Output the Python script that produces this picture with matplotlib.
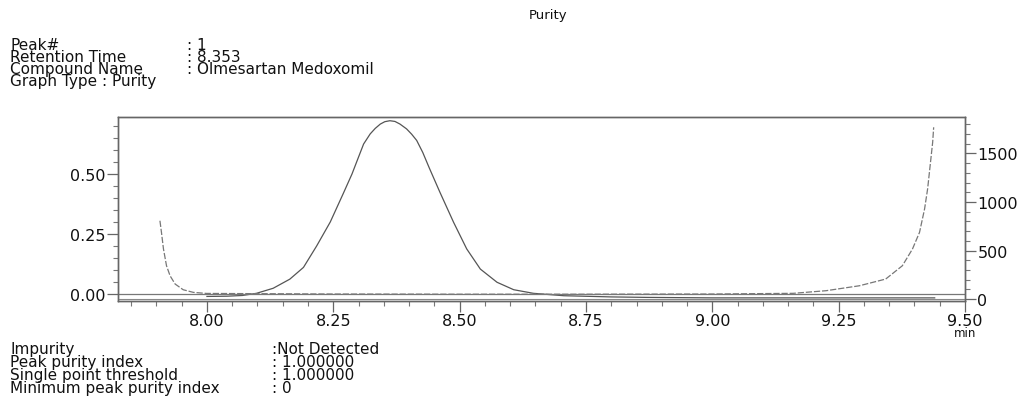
import numpy as np
import matplotlib.pyplot as plt
from matplotlib.ticker import MultipleLocator, FormatStrFormatter

# Purity curve (left axis)
purity_time = [8.000, 8.040, 8.070, 8.098, 8.131, 8.164, 8.191, 8.217, 8.244, 8.270,
               8.287, 8.298, 8.310, 8.323, 8.333, 8.343, 8.352, 8.362, 8.372, 8.382,
               8.395, 8.405, 8.415, 8.427, 8.440, 8.461, 8.488, 8.514, 8.541, 8.574,
               8.607, 8.646, 8.706, 8.800, 8.871, 9.000, 9.200, 9.440]
purity_vals = [-0.010, -0.009, -0.006, 0.003, 0.024, 0.062, 0.111, 0.200, 0.300, 0.420,
               0.500, 0.560, 0.625, 0.667, 0.690, 0.708, 0.718, 0.722, 0.719, 0.708,
               0.688, 0.666, 0.640, 0.590, 0.525, 0.424, 0.299, 0.188, 0.104, 0.049,
               0.018, 0.003, -0.007, -0.012, -0.014, -0.016, -0.016, -0.016]

# Threshold curve (right axis)
threshold_time = [7.907, 7.910, 7.914, 7.920, 7.927, 7.937, 7.953, 7.973, 7.999, 8.25,
                  8.50, 8.75, 9.00, 9.16, 9.225, 9.291, 9.343, 9.376, 9.396, 9.410,
                  9.420, 9.426, 9.431, 9.436, 9.438]
threshold_vals = [807, 687, 515, 343, 240, 155, 96, 69, 58, 52,
                  50, 50, 52, 59, 86, 137, 206, 343, 515, 687,
                  928, 1134, 1374, 1615, 1770]

header_keys = ["Peak#", "Retention Time", "Compound Name", "Graph Type : Purity"]
header_vals = [": 1", ": 8.353", ": Olmesartan Medoxomil"]
footer_keys = ["Impurity", "Peak purity index", "Single point threshold", "Minimum peak purity index"]
footer_vals = [":Not Detected", ": 1.000000", ": 1.000000", ": 0"]

W, H = 1029, 402
fig = plt.figure(figsize=(W / 100, H / 100), dpi=100)
fig.patch.set_facecolor("white")

ax = fig.add_axes([118 / W, 1 - 302 / H, (965 - 118) / W, (302 - 118) / H])
ax2 = ax.twinx()

txt = dict(family="DejaVu Sans", color="#111111")
tick_fs = 11.5
body_fs = 11

# Left axis
ax.plot(purity_time, purity_vals, color="#555555", lw=0.9)
ax.axhline(0, color="#777777", lw=0.9)
ax.set_xlim(7.824, 9.50)
ax.set_ylim(-0.029, 0.7375)
ax.xaxis.set_major_locator(MultipleLocator(0.25))
ax.xaxis.set_minor_locator(MultipleLocator(0.05))
ax.yaxis.set_major_locator(MultipleLocator(0.25))
ax.yaxis.set_minor_locator(MultipleLocator(0.05))
ax.xaxis.set_major_formatter(FormatStrFormatter("%.2f"))
ax.yaxis.set_major_formatter(FormatStrFormatter("%.2f"))
ax.tick_params(which="major", length=8, width=0.9, color="#666666", pad=1, labelsize=tick_fs)
ax.tick_params(which="minor", length=3.5, width=0.8, color="#777777")

# Right axis
ax2.plot(threshold_time, threshold_vals, color="#777777", lw=0.9, ls=(0, (5, 1.5)))
ax2.axhline(0, color="#888888", lw=0.8)
ax2.set_ylim(-20, 1876)
ax2.yaxis.set_major_locator(MultipleLocator(500))
ax2.yaxis.set_minor_locator(MultipleLocator(100))
ax2.tick_params(which="major", length=8, width=0.9, color="#666666", pad=1, labelsize=tick_fs)
ax2.tick_params(which="minor", length=3.5, width=0.8, color="#777777")

for a in (ax, ax2):
    for s in a.spines.values():
        s.set_color("#666666")
        s.set_linewidth(1.0)
    for lab in a.get_xticklabels() + a.get_yticklabels():
        lab.set_family("DejaVu Sans")
        lab.set_color("#111111")

# Title
fig.text(548 / W, 1 - 15 / H, "Purity", ha="center", va="center", fontsize=9.5, **txt)

# Header block: one text per column, tight line spacing like the printout
fig.text(10 / W, 1 - 38 / H, "\n".join(header_keys), ha="left", va="top",
         fontsize=body_fs, linespacing=0.75, **txt)
fig.text(187 / W, 1 - 38 / H, "\n".join(header_vals), ha="left", va="top",
         fontsize=body_fs, linespacing=0.75, **txt)

# "min" unit label
fig.text(965 / W, 1 - 334 / H, "min", ha="center", va="center", fontsize=8.5, **txt)

# Footer block
fig.text(10 / W, 1 - 342 / H, "\n".join(footer_keys), ha="left", va="top",
         fontsize=body_fs, linespacing=0.84, **txt)
fig.text(272 / W, 1 - 342 / H, "\n".join(footer_vals), ha="left", va="top",
         fontsize=body_fs, linespacing=0.84, **txt)

fig.savefig("out.png", dpi=100)
